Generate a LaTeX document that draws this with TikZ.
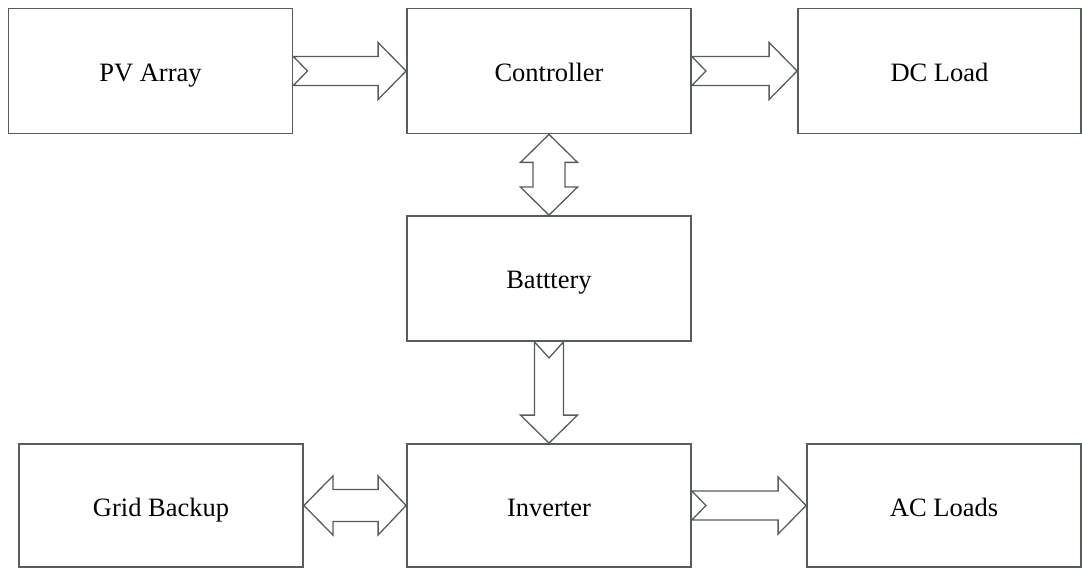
\documentclass[tikz,border=0pt]{standalone}
\usepackage{fontspec}
\setmainfont{Liberation Serif}
\usetikzlibrary{calc}
\definecolor{edge}{RGB}{85,95,85}
\tikzset{
  blk/.style={draw=edge, line width=1.8pt, fill=white, minimum width=284pt, minimum height=125pt, inner sep=0pt, text height=25pt, text depth=4pt, font=\fontsize{26.5}{30}\selectfont},
  arr/.style={draw=edge, line width=1.3pt, fill=white, line join=miter}
}
% horizontal single arrow: #1 tail anchor, #2 tip anchor
\newcommand\singleH[2]{%
  \draw[arr] ($(#1)+(0,-14.5)$) -- ($(#2)+(-28,-14.5)$) -- ($(#2)+(-28,-28.5)$) -- (#2)
    -- ($(#2)+(-28,28.5)$) -- ($(#2)+(-28,14.5)$) -- ($(#1)+(0,14.5)$) -- ($(#1)+(14,0)$) -- cycle;}
% horizontal double arrow
\newcommand\doubleH[2]{%
  \draw[arr] (#1) -- ($(#1)+(29,-29.5)$) -- ($(#1)+(29,-16)$) -- ($(#2)+(-28,-16)$) -- ($(#2)+(-28,-29.5)$) -- (#2)
    -- ($(#2)+(-28,29.5)$) -- ($(#2)+(-28,16)$) -- ($(#1)+(29,16)$) -- ($(#1)+(29,29.5)$) -- cycle;}
% vertical single arrow (downwards)
\newcommand\singleV[2]{%
  \draw[arr] ($(#1)+(-14.5,0)$) -- ($(#2)+(-14.5,-28)$) -- ($(#2)+(-28.5,-28)$) -- (#2)
    -- ($(#2)+(28.5,-28)$) -- ($(#2)+(14.5,-28)$) -- ($(#1)+(14.5,0)$) -- ($(#1)+(0,16)$) -- cycle;}
% vertical double arrow
\newcommand\doubleV[2]{%
  \draw[arr] (#1) -- ($(#1)+(28.5,28)$) -- ($(#1)+(16,28)$) -- ($(#2)+(16,-28)$) -- ($(#2)+(28.5,-28)$) -- (#2)
    -- ($(#2)+(-28.5,-28)$) -- ($(#2)+(-16,-28)$) -- ($(#1)+(-16,28)$) -- ($(#1)+(-28.5,28)$) -- cycle;}
\begin{document}
\begin{tikzpicture}[x=1pt,y=-1pt]
\useasboundingbox[fill=white] (0,0) rectangle (1082,569);
\node[blk] (pv)   at (150.5,71)  {PV Array};
\node[blk] (ctrl) at (549,71)    {Controller};
\node[blk, minimum width=283pt] (dc) at (939.5,71) {DC Load};
\node[blk] (bat)  at (549,278.5) {Batttery};
\node[blk, minimum height=123pt] (grid) at (161,505.5) {Grid Backup};
\node[blk, minimum height=123pt] (inv)  at (549,505.5) {Inverter};
\node[blk, minimum height=123pt, minimum width=274pt] (ac) at (944,505.5) {AC Loads};
\singleH{pv.east}{ctrl.west}
\singleH{ctrl.east}{dc.west}
\doubleV{ctrl.south}{bat.north}
\singleV{bat.south}{inv.north}
\doubleH{grid.east}{inv.west}
\singleH{inv.east}{ac.west}
\end{tikzpicture}
\end{document}
